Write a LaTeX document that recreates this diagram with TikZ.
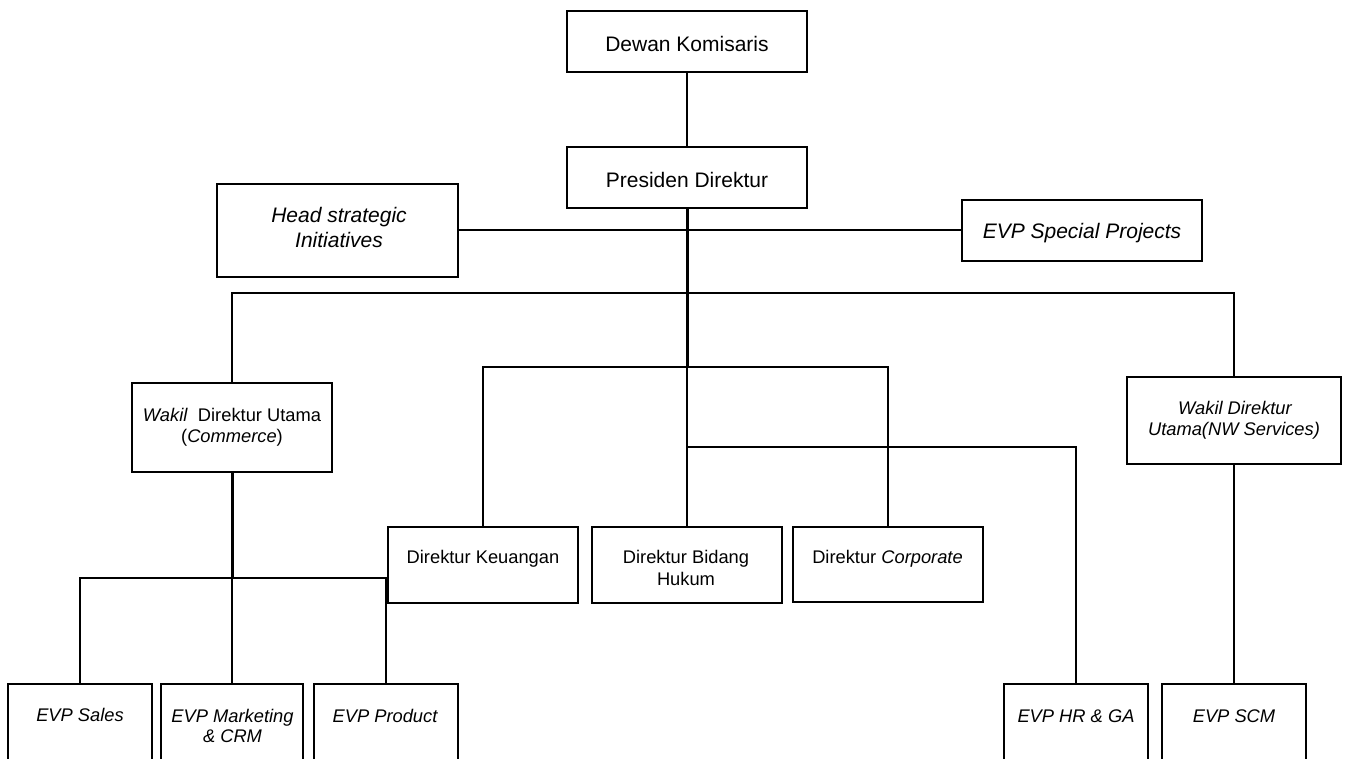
\documentclass[tikz,border=0pt]{standalone}
\usepackage{fontspec}
\setmainfont{Liberation Sans}
\begin{document}
\begin{tikzpicture}[x=1pt,y=-1pt,
  box/.style={draw, line width=2pt, inner sep=0pt, outer sep=0pt},
  big/.style={font=\fontsize{21}{25}\selectfont, anchor=base, inner sep=0pt},
  small/.style={font=\fontsize{18.3}{21}\selectfont, anchor=base, inner sep=0pt},
  conn/.style={line width=2pt},
  heavy/.style={line width=3pt}]
\useasboundingbox (0,0) rectangle (1349,758);
\clip (0,0) rectangle (1349,758);
% boxes
\node[box, minimum width=240pt, minimum height=61pt] (dk) at (687,41.5) {};
\node[box, minimum width=240pt, minimum height=61pt] (pd) at (687,177.5) {};
\node[box, minimum width=241pt, minimum height=93pt] (hs) at (337.5,230) {};
\node[box, minimum width=240pt, minimum height=61pt] (sp) at (1082,230) {};
\node[box, minimum width=200pt, minimum height=89pt] (wc) at (232,427.5) {};
\node[box, minimum width=214pt, minimum height=87pt] (wn) at (1234,420.5) {};
\node[box, minimum width=190pt, minimum height=76pt] (dku) at (483,565) {};
\node[box, minimum width=190pt, minimum height=76pt] (dbh) at (687,565) {};
\node[box, minimum width=190pt, minimum height=75pt] (dc) at (888,564.5) {};
\node[box, minimum width=144pt, minimum height=150pt] (es) at (80,759) {};
\node[box, minimum width=142pt, minimum height=150pt] (em) at (232,759) {};
\node[box, minimum width=144pt, minimum height=150pt] (ep) at (386,759) {};
\node[box, minimum width=144pt, minimum height=150pt] (ehr) at (1076,759) {};
\node[box, minimum width=144pt, minimum height=150pt] (escm) at (1234,759) {};
% junctions
\coordinate (j1) at (687,293);
\coordinate (j2) at (687,367);
\coordinate (j3) at (687,447);
\coordinate (j4) at (232,578);
% connectors
\draw[conn] (dk.south) -- (pd.north);
\draw[heavy] (pd.south) -- (j2);
\draw[conn] (j2) -- (dbh.north);
\draw[conn] (hs.east) -- (sp.west);
\draw[conn] (wc.north) |- (j1) -| (wn.north);
\draw[conn] (dku.north) |- (j2) -| (dc.north);
\draw[conn] (j3) -| (ehr.north);
\draw[heavy] (wc.south) -- (j4);
\draw[conn] (j4) -- (em.north);
\draw[conn] (es.north) |- (j4) -| (ep.north);
\draw[conn] (wn.south) -- (escm.north);
% texts
\node[big] (t-dk) at (687,51) {Dewan Komisaris};
\node[big] (t-pd) at (687,187) {Presiden Direktur};
\node[big] (t-hs1) at (339,222) {\itshape Head strategic};
\node[big] (t-hs2) at (339,247) {\itshape Initiatives};
\node[big] (t-sp) at (1082,238) {\itshape EVP Special Projects};
\node[small] (t-wc1) at (232,421) {\textit{Wakil}\ \ Direktur Utama};
\node[small] (t-wc2) at (232,442) {(\textit{Commerce})};
\node[small] (t-wn1) at (1235,414) {\itshape Wakil Direktur};
\node[small] (t-wn2) at (1234,435) {\itshape Utama(NW Services)};
\node[small] (t-dku) at (483,563) {Direktur Keuangan};
\node[small] (t-dbh1) at (686,563) {Direktur Bidang};
\node[small] (t-dbh2) at (686,585) {Hukum};
\node[small] (t-dc) at (887.5,563) {Direktur \textit{Corporate}};
\node[small] (t-es) at (80,721) {\itshape EVP Sales};
\node[small] (t-em1) at (232.5,722) {\itshape EVP Marketing};
\node[small] (t-em2) at (232.5,742) {\itshape \& CRM};
\node[small] (t-ep) at (385,722) {\itshape EVP Product};
\node[small] (t-ehr) at (1076,722) {\itshape EVP HR \& GA};
\node[small] (t-escm) at (1234,722) {\itshape EVP SCM};
\end{tikzpicture}
\end{document}
